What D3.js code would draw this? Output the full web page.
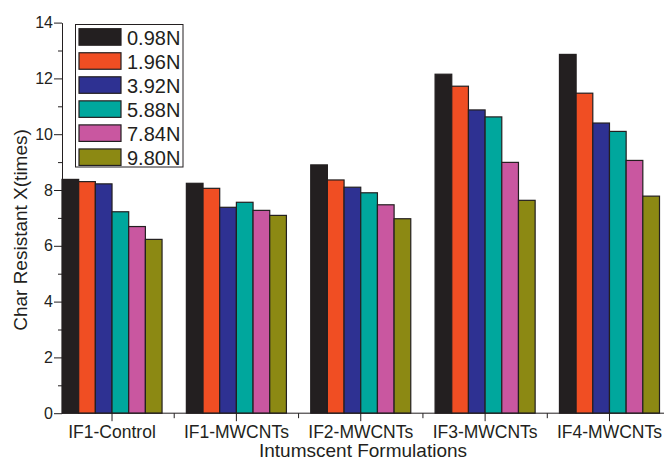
<!DOCTYPE html>
<html>
<head>
<meta charset="utf-8">
<script src="https://cdn.jsdelivr.net/npm/d3@7"></script>
<style>
  html, body { margin: 0; padding: 0; background: #fff; }
  svg { display: block; font-family: "Liberation Sans", Arial, sans-serif; }
</style>
</head>
<body>
<svg id="chart" width="664" height="461"></svg>
<script>
// Char resistance of intumescent formulations under different loads
const categories = ["IF1-Control", "IF1-MWCNTs", "IF2-MWCNTs", "IF3-MWCNTs", "IF4-MWCNTs"];
const loads = ["0.98N", "1.96N", "3.92N", "5.88N", "7.84N", "9.80N"];
const load098 = [8.38, 8.24, 8.90, 12.15, 12.86];
const load196 = [8.30, 8.06, 8.36, 11.72, 11.47];
const load392 = [8.22, 7.38, 8.10, 10.87, 10.40];
const load588 = [7.22, 7.56, 7.90, 10.62, 10.10];
const load784 = [6.69, 7.27, 7.47, 8.99, 9.06];
const load980 = [6.23, 7.09, 6.97, 7.63, 7.78];
const yMajorTicks = [0, 2, 4, 6, 8, 10, 12, 14];
const yMinorTicks = [1, 3, 5, 7, 9, 11, 13];
const colors = ["#231f20", "#f04e23", "#2e3192", "#00a79d", "#c957a0", "#8c8913"];

const series = [load098, load196, load392, load588, load784, load980];

const svg = d3.select("#chart");
const plotLeft = 62, plotBottom = 413.2, plotTop = 22.6, plotRight = 664;

const x = d3.scaleBand().domain(categories).range([plotLeft, 659.5])
  .paddingInner(0.1955).paddingOuter(0);
const xInner = d3.scaleBand().domain(loads).range([0, x.bandwidth()]);
const y = d3.scaleLinear().domain([0, 14]).range([plotBottom, plotTop]);

// Bars
const groups = svg.append("g").selectAll("g")
  .data(categories)
  .join("g")
  .attr("transform", d => `translate(${x(d)},0)`);

groups.selectAll("rect")
  .data((c, ci) => loads.map((l, li) => ({ load: l, value: series[li][ci], li })))
  .join("rect")
  .attr("x", d => xInner(d.load))
  .attr("y", d => y(d.value))
  .attr("width", xInner.bandwidth())
  .attr("height", d => y(0) - y(d.value))
  .attr("fill", d => colors[d.li])
  .attr("stroke", "#231f20")
  .attr("stroke-width", 1.2);

// Y axis
const yAxis = svg.append("g")
  .attr("transform", `translate(${plotLeft},0)`)
  .call(d3.axisLeft(y).tickValues(yMajorTicks).tickSize(8).tickPadding(1).tickSizeOuter(0));
yAxis.attr("font-family", null);
yAxis.selectAll("text").attr("font-size", 16).attr("fill", "#231f20");
yAxis.selectAll("line, path").attr("stroke", "#231f20");

const yMinor = svg.append("g")
  .attr("transform", `translate(${plotLeft},0)`)
  .call(d3.axisLeft(y).tickValues(yMinorTicks).tickSize(4).tickFormat(""));
yMinor.select(".domain").remove();
yMinor.selectAll("line").attr("stroke", "#231f20");

// X axis
const xAxis = svg.append("g")
  .attr("transform", `translate(0,${plotBottom})`)
  .call(d3.axisBottom(x).tickSize(8).tickPadding(4).tickSizeOuter(0));
xAxis.attr("font-family", null);
xAxis.select(".domain").remove();
xAxis.selectAll("line").attr("stroke", "#231f20");
xAxis.selectAll("text").attr("font-size", 17.5).attr("fill", "#231f20");

svg.append("line")
  .attr("x1", plotLeft).attr("x2", plotRight)
  .attr("y1", plotBottom).attr("y2", plotBottom)
  .attr("stroke", "#231f20").attr("stroke-width", 1);

// Minor x ticks between groups
const gap = x.step() - x.bandwidth();
svg.append("g").selectAll("line")
  .data(categories.slice(0, -1))
  .join("line")
  .attr("x1", d => x(d) + x.bandwidth() + gap / 2)
  .attr("x2", d => x(d) + x.bandwidth() + gap / 2)
  .attr("y1", plotBottom).attr("y2", plotBottom + 5)
  .attr("stroke", "#231f20");

// Axis titles
svg.append("text")
  .attr("x", (plotLeft + plotRight) / 2)
  .attr("y", 457)
  .attr("text-anchor", "middle")
  .attr("font-size", 19)
  .attr("fill", "#231f20")
  .text("Intumscent Formulations");

svg.append("text")
  .attr("transform", "translate(27,230) rotate(-90)")
  .attr("text-anchor", "middle")
  .attr("font-size", 19)
  .attr("fill", "#231f20")
  .text("Char Resistant X(times)");

// Legend
const legend = svg.append("g");
legend.append("rect")
  .attr("x", 75.5).attr("y", 24.5)
  .attr("width", 107.5).attr("height", 142.5)
  .attr("fill", "#fff").attr("stroke", "#231f20").attr("stroke-width", 1);

const items = legend.selectAll("g.item")
  .data(loads)
  .join("g")
  .attr("class", "item")
  .attr("transform", (d, i) => `translate(0,${28.7 + i * 24.05})`);

items.append("rect")
  .attr("x", 79).attr("y", 0)
  .attr("width", 42).attr("height", 16.5)
  .attr("fill", (d, i) => colors[i])
  .attr("stroke", "#231f20").attr("stroke-width", 1.2);

items.append("text")
  .attr("x", 127).attr("y", 16.3)
  .attr("font-size", 20)
  .attr("fill", "#231f20")
  .text(d => d);
</script>
</body>
</html>
